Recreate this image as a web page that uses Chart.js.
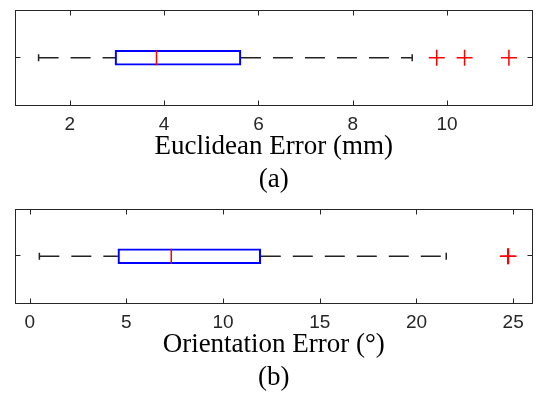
<!DOCTYPE html>
<html lang="en">
<head>
<meta charset="UTF-8">
<title>Error Box Plots</title>
<script src="https://cdn.jsdelivr.net/npm/chart.js@4"></script>
<style>
  body { margin: 0; background: #fff; }
  canvas { position: absolute; left: 0; }
  #chartA { top: 0; }
  #chartB { top: 199px; }
</style>
</head>
<body>
<canvas id="chartA" width="542" height="199"></canvas>
<canvas id="chartB" width="542" height="200"></canvas>
<script>
// box stats: [lower whisker, q1, median, q3, upper whisker]
const euclidBox = [1.34, 2.96, 3.84, 5.63, 9.26];
const euclidOutliers = [9.78, 10.37, 11.31];
const euclidTicks = [2, 4, 6, 8, 10];
const euclidLimits = [0.84, 11.81];

const orientBox = [0.50, 4.56, 7.32, 11.95, 21.54];
const orientOutliers = [24.72, 24.76];
const orientTicks = [0, 5, 10, 15, 20, 25];
const orientLimits = [-0.76, 26.0];

const AXIS_COLOR = '#262626';

// matlab-like box around the axes, tick marks pointing inward
const framePlugin = {
    id: 'frame',
    afterDraw(chart) {
        const { ctx, chartArea: a, scales } = chart;
        const l = Math.round(a.left) + 0.5, r = Math.round(a.right) - 0.5;
        const t = Math.round(a.top) + 0.5, b = Math.round(a.bottom) - 0.5;
        ctx.save();
        ctx.strokeStyle = AXIS_COLOR;
        ctx.lineWidth = 1;
        ctx.beginPath();
        scales.x.ticks.forEach(tk => {
            const px = Math.round(scales.x.getPixelForValue(tk.value)) + 0.5;
            ctx.moveTo(px, t); ctx.lineTo(px, t + 5);
            ctx.moveTo(px, b); ctx.lineTo(px, b - 5);
        });
        const py = Math.round(scales.y.getPixelForValue(1)) - 0.5;
        ctx.moveTo(l, py); ctx.lineTo(l + 5, py);
        ctx.moveTo(r, py); ctx.lineTo(r - 5, py);
        ctx.stroke();
        ctx.strokeRect(l, t, r - l, b - t);
        ctx.restore();
    }
};

function whisker(from, to) {
    return {
        type: 'line',
        data: [{ x: from, y: 1 }, { x: to, y: 1 }],
        borderColor: '#222',
        borderWidth: 1.5,
        borderDash: [20, 12],
        pointRadius: 0
    };
}

function makeChart(id, box, outliers, ticks, limits, label, tag, axisHeight, titlePad) {
    const [lo, q1, med, q3, hi] = box;
    return new Chart(document.getElementById(id), {
        type: 'scatter',
        data: {
            datasets: [
                {
                    data: outliers.map(v => ({ x: v, y: 1 })),
                    pointStyle: 'cross',
                    pointRadius: 8,
                    pointBorderColor: '#ff0000',
                    pointBorderWidth: 1.5
                },
                {
                    data: [{ x: med, y: 1 }],
                    pointStyle: 'line',
                    pointRotation: 90,
                    pointRadius: 7.5,
                    pointBorderColor: '#ff0000',
                    pointBorderWidth: 1.5
                },
                {
                    type: 'bar',
                    indexAxis: 'y',
                    data: [{ x: [q1, q3], y: 1 }],
                    barThickness: 15,
                    backgroundColor: 'rgba(255,255,255,0)',
                    borderColor: '#0000ff',
                    borderWidth: 1.5,
                    borderSkipped: false
                },
                {
                    data: [{ x: lo, y: 1 }, { x: hi, y: 1 }],
                    pointStyle: 'line',
                    pointRotation: 90,
                    pointRadius: 3.5,
                    pointBorderColor: '#222',
                    pointBorderWidth: 1.5
                },
                whisker(lo, q1),
                whisker(q3, hi)
            ]
        },
        options: {
            animation: false,
            responsive: false,
            events: [],
            layout: { padding: { left: 15, right: 8, top: 5, bottom: 0 } },
            plugins: { legend: { display: false }, tooltip: { enabled: false } },
            scales: {
                x: {
                    type: 'linear',
                    min: limits[0],
                    max: limits[1],
                    afterBuildTicks: s => { s.ticks = ticks.map(v => ({ value: v })); },
                    afterFit: s => { s.height = axisHeight; },
                    grid: { display: false, drawTicks: false },
                    border: { display: false },
                    ticks: {
                        color: AXIS_COLOR,
                        font: { family: 'Liberation Sans', size: 19, lineHeight: 1 },
                        padding: 9.5,
                        maxRotation: 0,
                        autoSkip: false
                    },
                    title: {
                        display: true,
                        text: [label, tag],
                        color: '#000',
                        font: { family: 'Liberation Serif', size: 27, lineHeight: 33 / 27 },
                        padding: { top: 0, bottom: titlePad }
                    }
                },
                y: { type: 'linear', min: 0.5, max: 1.5, display: false }
            }
        },
        plugins: [framePlugin]
    });
}

makeChart('chartA', euclidBox, euclidOutliers, euclidTicks, euclidLimits,
    'Euclidean Error (mm)', '(a)', 93, 2.6);
makeChart('chartB', orientBox, orientOutliers, orientTicks, orientLimits,
    'Orientation Error (°)', '(b)', 95, 4.3);
</script>
</body>
</html>
